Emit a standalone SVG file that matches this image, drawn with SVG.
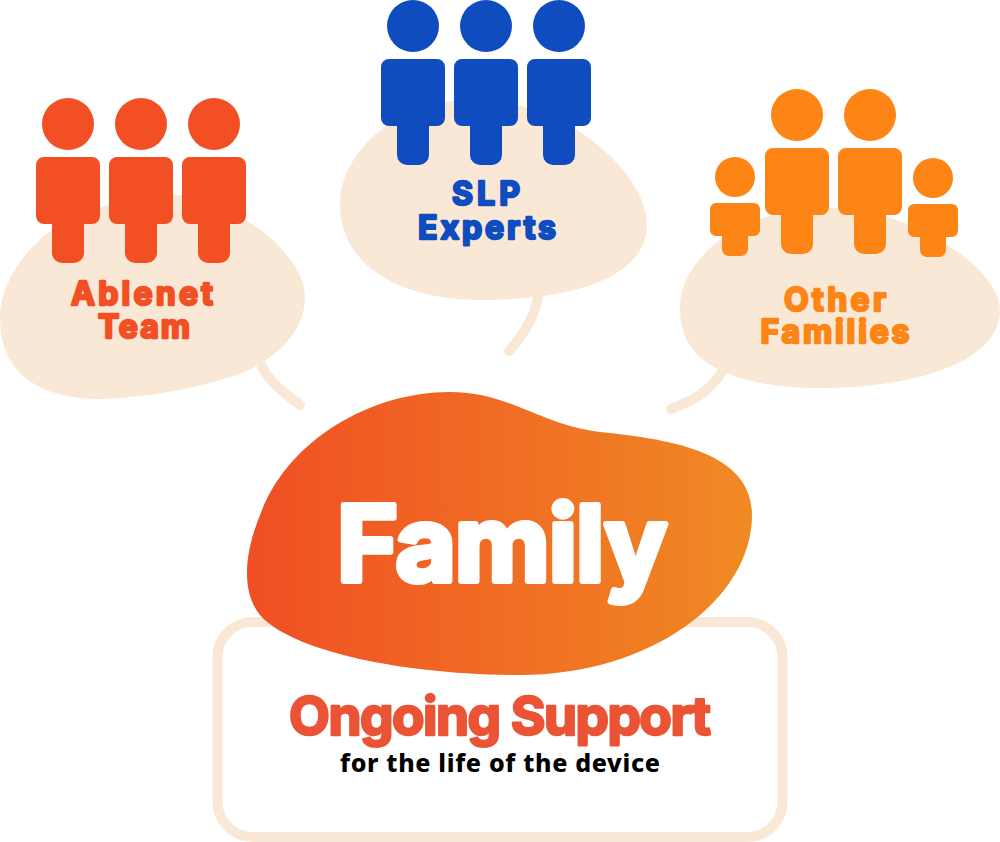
<svg xmlns="http://www.w3.org/2000/svg" width="1000" height="842" viewBox="0 0 1000 842">
<style>
.bub{fill:#FAE8D6}
.tail{fill:none;stroke:#FAE8D6;stroke-width:10;stroke-linecap:round}
.t{font-family:"Inter","Noto Sans",sans-serif;font-weight:700;text-anchor:middle;stroke-linejoin:round;paint-order:stroke}
.lab{font-size:32px;stroke-width:2.4px}
.o{fill:#F25024;stroke:#F25024}
.b{fill:#0F4CBF;stroke:#0F4CBF}
.y{fill:#FC8515;stroke:#FC8515}
.p-o{fill:#F25024}.p-b{fill:#0F4CBF}.p-y{fill:#FC8515}
</style>
<defs>
<linearGradient id="g" x1="0" x2="1" y1="0" y2="0"><stop offset="0" stop-color="#F04E23"/><stop offset="1" stop-color="#F08A24"/></linearGradient>
<g id="adult"><circle cx="32" cy="-33" r="26"/><path d="M8 0H56A8 8 0 0 1 64 8V59A8 8 0 0 1 56 67H48V96A10 10 0 0 1 38 106H26A10 10 0 0 1 16 96V67H8A8 8 0 0 1 0 59V8A8 8 0 0 1 8 0Z"/></g>
<g id="child"><circle cx="25" cy="-26" r="20"/><path d="M6 0H44A6 6 0 0 1 50 6V27A6 6 0 0 1 44 33H38V46A7 7 0 0 1 31 53H19A7 7 0 0 1 12 46V33H6A6 6 0 0 1 0 27V6A6 6 0 0 1 6 0Z"/></g>
</defs>
<rect width="1000" height="842" fill="#fff"/>
<g id="connectors">
<path class="tail" d="M260 362C268 382 282 391 300 405"/>
<path class="tail" d="M539 294C534 318 524 334 509 351"/>
<path class="tail" d="M723 370C710 392 694 400 671 409"/>
</g>
<g id="ablenet">
<path class="bub" d="M172 195C225 195 305 250 305 297C305 330 280 355 245 372C195 391 130 399 95 399C40 397 0 375 0 317C0 270 50 215 110 205C135 200 155 195 172 195Z"/>
<use href="#adult" x="36" y="157" class="p-o"/><use href="#adult" x="109" y="157" class="p-o"/><use href="#adult" x="182" y="157" class="p-o"/>
<text class="t lab o"><tspan x="142" y="305" textLength="142">Ablenet</tspan><tspan x="144" y="338" textLength="92">Team</tspan></text>
</g>
<g id="slp">
<path class="bub" d="M470 100C560 97 647 170 647 225C647 270 590 300 480 300C400 300 340 265 340 205C340 150 400 100 470 100Z"/>
<use href="#adult" x="381" y="59" class="p-b"/><use href="#adult" x="454" y="59" class="p-b"/><use href="#adult" x="527" y="59" class="p-b"/>
<text class="t lab b"><tspan x="486" y="205" textLength="68">SLP</tspan><tspan x="487" y="239" textLength="138">Experts</tspan></text>
</g>
<g id="families">
<path class="bub" d="M830 208C900 205 1000 265 1000 310C1000 360 920 388 820 388C775 388 745 381 727 373C700 362 680 345 680 307C680 265 730 208 830 208Z"/>
<use href="#adult" x="765" y="148" class="p-y"/><use href="#adult" x="838" y="148" class="p-y"/>
<use href="#child" x="710" y="203" class="p-y"/><use href="#child" x="908" y="204" class="p-y"/>
<text class="t lab y"><tspan x="835" y="311" textLength="102">Other</tspan><tspan x="835" y="343" textLength="149">Families</tspan></text>
</g>
<g id="support">
<rect x="217.500" y="622" width="565" height="215" rx="35" fill="#fff" stroke="#FAE8D6" stroke-width="10"/>
<text class="t" x="500" y="735" font-size="53" fill="#EA5435" stroke="#EA5435" stroke-width="2.500" textLength="422">Ongoing Support</text>
<text x="500" y="772" font-family="'Noto Sans',sans-serif" font-weight="800" font-size="25" text-anchor="middle" fill="#000" textLength="320">for the life of the device</text>
</g>
<g id="family">
<path fill="url(#g)" d="M450 392C510 392 540 425 600 432C680 440 752 455 752 515C752 600 650 675 520 675C400 675 290 650 260 615C240 590 245 550 262 510C290 440 370 392 450 392Z"/>
<text class="t" x="502" y="581" font-size="104" font-weight="600" fill="#fff" stroke="#fff" stroke-width="6" textLength="330">Family</text>
</g>
</svg>
